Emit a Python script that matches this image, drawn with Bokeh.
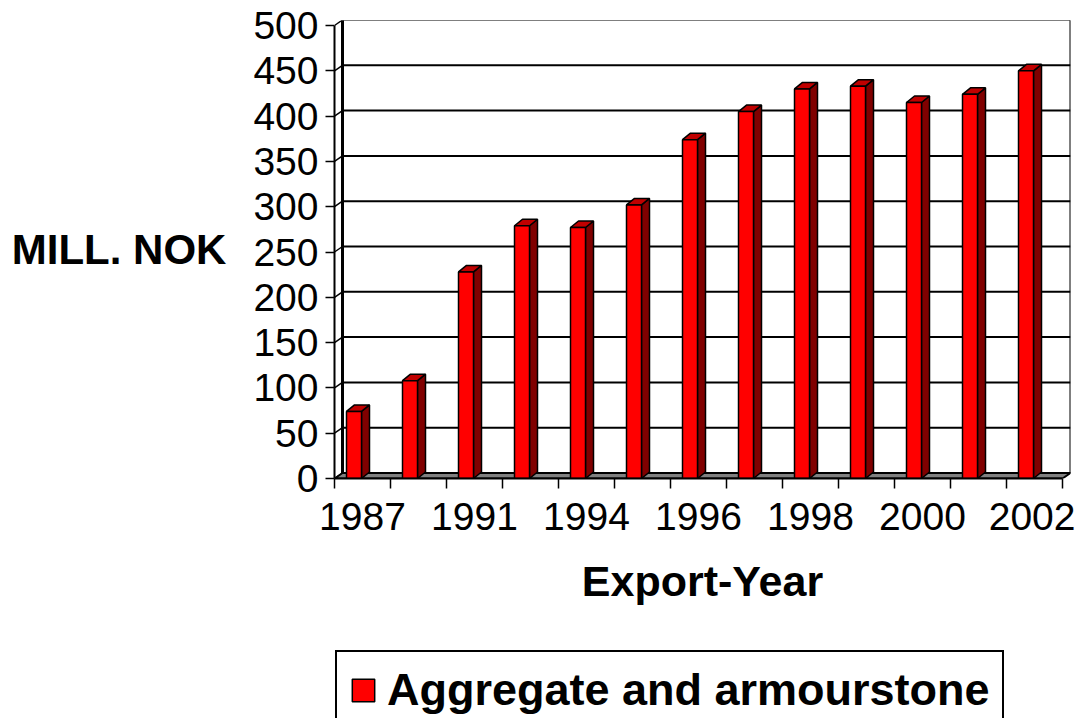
from bokeh.plotting import figure
from bokeh.layouts import column
from bokeh.models import Range1d, FixedTicker, Legend, LegendItem
from bokeh.embed import file_html
from bokeh.resources import INLINE

# ---- data ----
years = ["1987", "1989", "1991", "1993", "1994", "1995", "1996",
         "1997", "1998", "1999", "2000", "2001", "2002"]
values = [74, 108, 228, 279, 277, 302, 374, 405, 430, 433, 415, 424, 450]
y_ticks = [0, 50, 100, 150, 200, 250, 300, 350, 400, 450, 500]
series_name = "Aggregate and armourstone"

# ---- geometry (styles) ----
CAT_PX = 56.0          # px per category
Y_PX = 0.906           # px per unit
FRAME_W = 736
FRAME_H = 458
DX = 8.0 / CAT_PX      # depth offset (x, data units)
DYW = 5.5 / Y_PX       # wall depth offset (y)
DYB = 6.5 / Y_PX       # bar depth offset (y)
BAR_L = 12.0 / CAT_PX
BAR_R = 27.0 / CAT_PX
FONT = "Liberation Sans"
FRONT_COLOR = "#FF0000"
SIDE_COLOR = "#800000"
TOP_COLOR = "#C00000"

n = len(years)
ymax = y_ticks[-1]

p = figure(width=1075, height=640,
           x_range=Range1d(0, FRAME_W / CAT_PX), y_range=Range1d(0, FRAME_H / Y_PX),
           output_backend="svg", toolbar_location=None,
           min_border_left=334, min_border_right=5, min_border_top=20,
           min_border_bottom=162)
p.outline_line_color = None
p.grid.visible = False
p.background_fill_color = "white"
p.border_fill_color = "white"

# back wall gridlines + left wall diagonals
for t in y_ticks:
    p.segment(x0=[DX], y0=[t + DYW], x1=[n + DX], y1=[t + DYW], line_color="black", line_width=2)
    p.segment(x0=[0], y0=[t], x1=[DX], y1=[t + DYW], line_color="black", line_width=1.5)

# back edges of walls
p.segment(x0=[DX], y0=[DYW], x1=[DX], y1=[ymax + DYW], line_color="black", line_width=3)
p.segment(x0=[n + DX], y0=[DYW], x1=[n + DX], y1=[ymax + DYW], line_color="black", line_width=2)

# floor
p.patch(x=[0, n, n + DX, DX], y=[0, 0, DYW, DYW], fill_color="#808080",
        line_color="black", line_width=2)

# bars
xl = [i + BAR_L for i in range(n)]
xr = [i + BAR_R for i in range(n)]
side_xs = [[r, r + DX, r + DX, r] for r in xr]
side_ys = [[0, DYB, v + DYB, v] for v in values]
top_xs = [[l, r, r + DX, l + DX] for l, r in zip(xl, xr)]
top_ys = [[v, v, v + DYB, v + DYB] for v in values]

p.patches(xs=side_xs, ys=side_ys, fill_color=SIDE_COLOR, line_color="black", line_width=1.5)
p.patches(xs=top_xs, ys=top_ys, fill_color=TOP_COLOR, line_color="black", line_width=1.5)
front = p.quad(left=xl, right=xr, bottom=[0] * n, top=values,
               fill_color=FRONT_COLOR, line_color="black", line_width=1.5)

# y axis
ya = p.yaxis[0]
ya.ticker = FixedTicker(ticks=y_ticks)
ya.bounds = (0, ymax)
ya.axis_line_width = 2
ya.major_tick_in = 0
ya.major_tick_out = 9
ya.major_tick_line_width = 1.5
ya.minor_tick_line_color = None
ya.major_label_standoff = 7
ya.major_label_text_font = FONT
ya.major_label_text_font_size = "39px"
ya.major_label_text_color = "black"
ya.axis_label = "MILL. NOK"
ya.axis_label_orientation = "horizontal"
ya.axis_label_text_font = FONT
ya.axis_label_text_font_size = "42px"
ya.axis_label_text_font_style = "bold"
ya.axis_label_text_color = "black"
ya.axis_label_standoff = 24

# x axis
centers = [i + 0.5 for i in range(n)]
bounds_t = [float(i) for i in range(n + 1)]
xa = p.xaxis[0]
xa.ticker = FixedTicker(ticks=centers, minor_ticks=bounds_t)
xa.bounds = (0, n)
xa.axis_line_width = 2
xa.major_tick_line_color = None
xa.major_tick_out = 10
xa.major_tick_in = 0
xa.minor_tick_out = 10
xa.minor_tick_in = 0
xa.minor_tick_line_width = 1.5
xa.minor_tick_line_color = "black"
xa.major_label_overrides = {c: (years[i] if i % 2 == 0 else "") for i, c in enumerate(centers)}
xa.major_label_standoff = 14
xa.major_label_text_font = FONT
xa.major_label_text_font_size = "39px"
xa.major_label_text_color = "black"
xa.axis_label = "Export-Year"
xa.axis_label_text_font = FONT
xa.axis_label_text_font_size = "43px"
xa.axis_label_text_font_style = "bold"
xa.axis_label_text_color = "black"
xa.axis_label_standoff = 24

# ---- legend strip (its frame is aligned with the chart frame) ----
lg = figure(width=1075, height=78, x_range=Range1d(0, 1), y_range=Range1d(0, 1),
            output_backend="svg", toolbar_location=None,
            x_axis_location=None, y_axis_location=None,
            min_border_left=0, min_border_right=0, min_border_top=0, min_border_bottom=0)
lg.outline_line_color = None
lg.grid.visible = False
# legend-only swatch renderer, kept outside the visible range
swatch = lg.quad(left=[5], right=[6], bottom=[5], top=[6],
                 fill_color=FRONT_COLOR, line_color="black", line_width=1.5)

legend = Legend(items=[LegendItem(label=series_name, renderers=[swatch])],
                location=(1, -12))
legend.label_text_font = FONT
legend.label_text_font_size = "45px"
legend.label_text_font_style = "bold"
legend.label_text_color = "black"
legend.glyph_width = 28
legend.glyph_height = 28
legend.padding = 12
legend.label_standoff = 10
legend.border_line_color = "black"
legend.border_line_alpha = 1.0
legend.border_line_width = 2
legend.background_fill_color = "white"
legend.background_fill_alpha = 1
legend.margin = 0
lg.add_layout(legend, "center")

layout = column(p, lg, spacing=0)
open("out.html", "w").write(file_html(layout, INLINE))
